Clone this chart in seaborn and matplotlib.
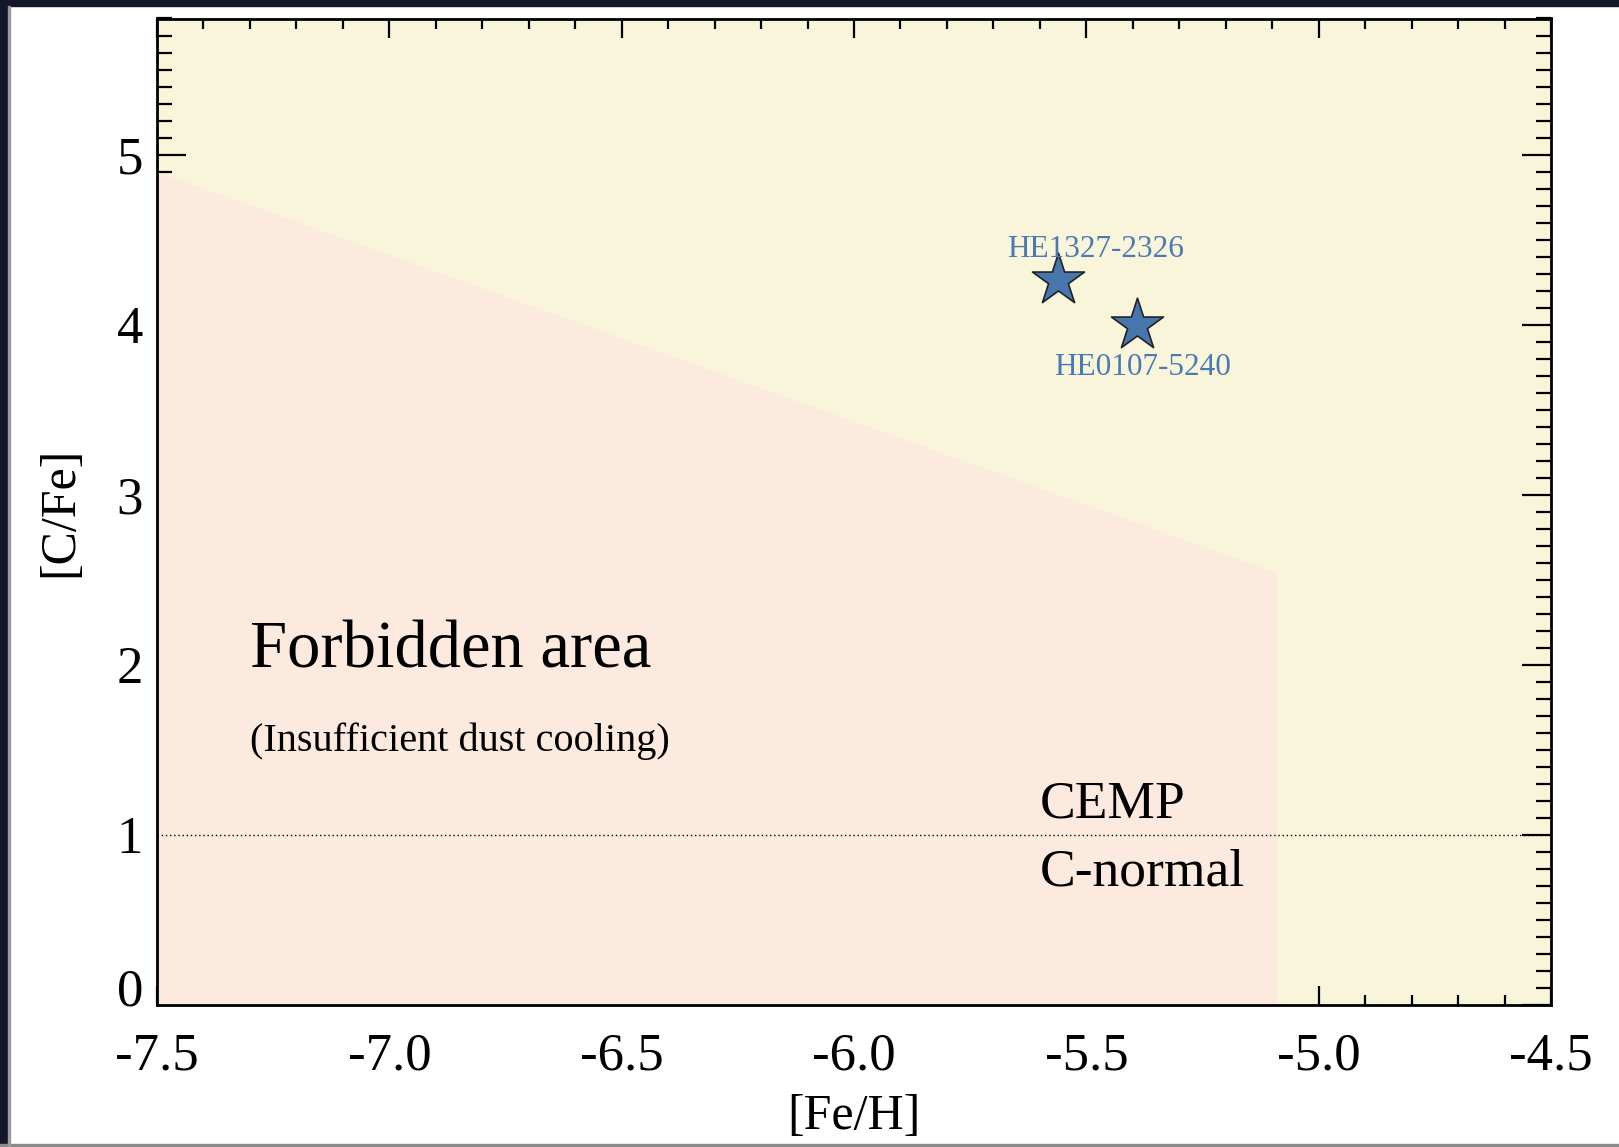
import numpy as np
import matplotlib
matplotlib.use("Agg")
import matplotlib.pyplot as plt
from matplotlib.ticker import AutoMinorLocator
from matplotlib.patches import Rectangle
import seaborn as sns
import pandas as pd

# Carbon-enhanced hyper metal-poor stars
star_names = ["HE1327-2326", "HE0107-5240"]
star_feh = [-5.56, -5.39]
star_cfe = [4.26, 4.00]

# Edge of the region where dust cooling is insufficient
boundary_feh = [-7.5, -5.09]
boundary_cfe = [4.90, 2.54]

# CEMP / C-normal dividing value
cemp_threshold = 1.0

xtick_values = [-7.5, -7.0, -6.5, -6.0, -5.5, -5.0, -4.5]
xtick_labels = ["-7.5", "-7.0", "-6.5", "-6.0", "-5.5", "-5.0", "-4.5"]
ytick_values = [0, 1, 2, 3, 4, 5]
ytick_labels = ["0", "1", "2", "3", "4", "5"]

sns.set_theme(style="ticks")
plt.rcParams["font.family"] = ["Liberation Serif", "DejaVu Serif"]
plt.rcParams["mathtext.fontset"] = "stix"

W, H = 1619, 1147
fig = plt.figure(figsize=(W / 100, H / 100), dpi=100)
fig.patch.set_facecolor("white")

# dark slide surround
dark = "#12172a"
fig.add_artist(Rectangle((0, 0), 8 / W, 1, transform=fig.transFigure, color=dark, zorder=-5))
fig.add_artist(Rectangle((0, 1 - 6 / H), 1, 6 / H, transform=fig.transFigure, color=dark, zorder=-5))
fig.add_artist(Rectangle((0, 0), 1, 3 / H, transform=fig.transFigure, color="#8a8a8a", zorder=-4))
fig.add_artist(Rectangle((8 / W, 0), 2 / W, 1 - 6 / H, transform=fig.transFigure, color="#9a9a9a", zorder=-4))

ax = fig.add_axes([157 / W, 1 - 1005 / H, (1551 - 157) / W, (1005 - 18.5) / H])
cream = "#f8f5da"
pink = "#fdeade"
ax.set_facecolor(cream)

ax.fill_between(boundary_feh, boundary_cfe, 0, color=pink, linewidth=0, zorder=1)

ax.axhline(cemp_threshold, color="black", linestyle=(0, (1, 2)), linewidth=1.0, zorder=2)

stars = pd.DataFrame({"feh": star_feh, "cfe": star_cfe, "name": star_names})
sns.scatterplot(data=stars, x="feh", y="cfe", marker="*", s=1550, color="#4676ad",
                edgecolor="#222222", linewidth=1.2, zorder=4, ax=ax, legend=False)

label_color = "#4a7ab4"
ax.text(star_feh[0] + 0.08, star_cfe[0] + 0.18, star_names[0], color=label_color,
        fontsize=22.5, ha="center", va="center", zorder=5)
ax.text(star_feh[1] + 0.01, star_cfe[1] - 0.25, star_names[1], color=label_color,
        fontsize=22.5, ha="center", va="center", zorder=5)

ax.text(-7.3, 2.08, "Forbidden area", fontsize=48, ha="left", va="center", color="black")
ax.text(-7.3, 1.55, "(Insufficient dust cooling)", fontsize=29, ha="left", va="center", color="black")
ax.text(-5.6, 1.18, "CEMP", fontsize=38.5, ha="left", va="center", color="black")
ax.text(-5.6, 0.78, "C-normal", fontsize=38.5, ha="left", va="center", color="black")

ax.set_xlim(-7.5, -4.5)
ax.set_ylim(0, 5.8)
ax.set_xticks(xtick_values)
ax.set_xticklabels(xtick_labels)
ax.set_yticks(ytick_values)
ax.set_yticklabels(ytick_labels)
ax.xaxis.set_minor_locator(AutoMinorLocator(5))
ax.yaxis.set_minor_locator(AutoMinorLocator(10))

ax.tick_params(which="both", direction="in", top=True, right=True, color="black",
               width=1.6, labelsize=38, labelcolor="black")
ax.tick_params(axis="x", which="major", length=14, pad=20)
ax.tick_params(axis="x", which="minor", length=7)
ax.tick_params(axis="y", which="major", length=21, pad=10)
ax.tick_params(axis="y", which="minor", length=10.5)

for sp in ax.spines.values():
    sp.set_linewidth(2.0)
    sp.set_color("black")
    sp.set_zorder(6)

ax.set_xlabel("[Fe/H]", fontsize=36, color="black", labelpad=9)
ax.set_ylabel("[C/Fe]", fontsize=36, color="black", labelpad=24)

# sit the zero label on the baseline so it clears the corner
ax.get_yticklabels()[0].set_verticalalignment("baseline")

fig.savefig("out.png", dpi=100, facecolor=fig.get_facecolor())
